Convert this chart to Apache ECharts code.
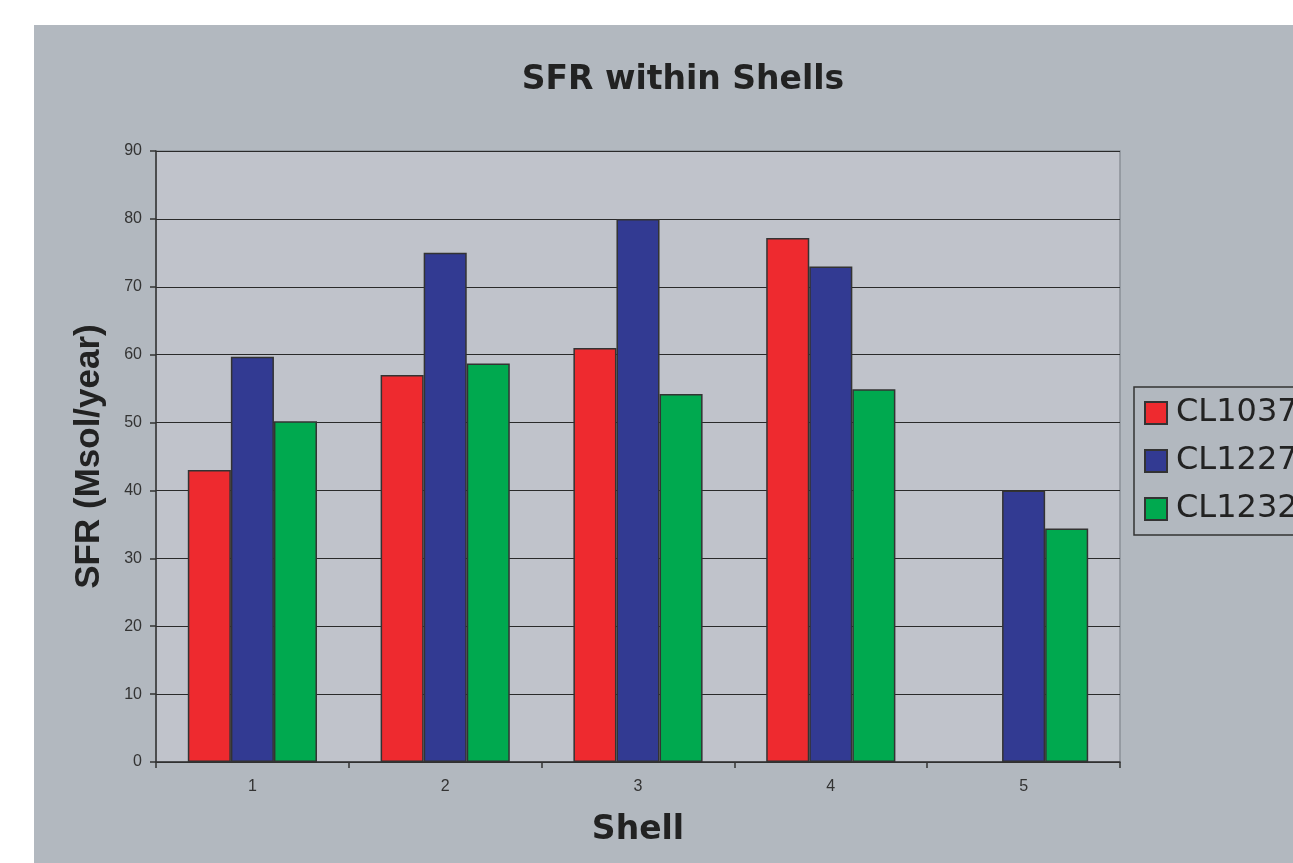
<!DOCTYPE html>
<html>
<head>
<meta charset="utf-8">
<script src="https://cdn.jsdelivr.net/npm/echarts@6/dist/echarts.min.js"></script>
<style>
  html, body { margin: 0; padding: 0; background: #fff; }
  #show_picture { width: 1293px; height: 863px; }
</style>
</head>
<body>
<div id="show_picture"></div>
<script>
const shells = ['1', '2', '3', '4', '5'];
const cl1037 = [43.0, 57.0, 61.0, 77.2, null];
const cl1227 = [59.7, 75.0, 80.0, 73.0, 40.0];
const cl1232 = [50.2, 58.7, 54.2, 54.9, 34.4];
const seriesNames = ['CL1037', 'CL1227', 'CL1232'];
const seriesColors = ['#ee2a2f', '#323a92', '#00a94f'];

let myChart = echarts.init(document.getElementById('show_picture'));

const font = 'Liberation Sans, Arial, sans-serif';
const wide = 'DejaVu Sans, sans-serif';

let series = [cl1037, cl1227, cl1232].map((d, i) => ({
    name: seriesNames[i],
    type: 'bar',
    data: d,
    barGap: '0%',
    barCategoryGap: '33%',
    itemStyle: {
        color: seriesColors[i],
        borderColor: '#333',
        borderWidth: 1.5
    }
}));

let option = {
    animation: false,
    graphic: [{
        type: 'rect',
        left: 34,
        top: 25,
        z: -10,
        shape: { width: 1293 - 34, height: 863 - 25 },
        style: { fill: '#b2b8bf' }
    }],
    title: {
        text: 'SFR within Shells',
        left: 678,
        top: 59,
        textAlign: 'center',
        textStyle: {
            color: '#222',
            fontFamily: wide,
            fontWeight: 'bold',
            fontSize: 33
        }
    },
    legend: {
        orient: 'vertical',
        left: 1134,
        top: 387,
        padding: [10, 30, 10, 10],
        itemWidth: 22,
        itemHeight: 22,
        itemGap: 16,
        borderColor: '#333',
        borderWidth: 1.5,
        icon: 'rect',
        textStyle: {
            color: '#222',
            fontFamily: wide,
            fontSize: 32,
            padding: [0, 0, 0, 4]
        },
        data: seriesNames
    },
    grid: {
        left: 156,
        top: 151,
        width: 964,
        height: 611,
        show: true,
        backgroundColor: '#c0c3cb',
        borderColor: '#8a9098',
        borderWidth: 1.5
    },
    xAxis: {
        type: 'category',
        data: shells,
        name: 'Shell',
        nameLocation: 'middle',
        nameGap: 52,
        nameTextStyle: {
            color: '#222',
            fontFamily: wide,
            fontWeight: 'bold',
            fontSize: 33
        },
        axisLine: { lineStyle: { color: '#333', width: 1.5 } },
        axisTick: { show: true, length: 6, lineStyle: { color: '#333', width: 1.5 } },
        axisLabel: {
            color: '#333',
            fontFamily: font,
            fontSize: 16,
            margin: 17
        }
    },
    yAxis: {
        type: 'value',
        min: 0,
        max: 90,
        interval: 10,
        name: 'SFR (Msol/year)',
        nameLocation: 'middle',
        nameGap: 49,
        nameTextStyle: {
            color: '#222',
            fontFamily: font,
            fontWeight: 'bold',
            fontSize: 35
        },
        axisLine: { show: true, lineStyle: { color: '#333', width: 1.5 } },
        axisTick: { show: true, length: 6, lineStyle: { color: '#333', width: 1.5 } },
        axisLabel: {
            color: '#333',
            fontFamily: font,
            fontSize: 16,
            margin: 14
        },
        splitLine: { lineStyle: { color: '#2a2a2a', width: 1.2 } }
    },
    series: series
};

option && myChart.setOption(option);
</script>
</body>
</html>
